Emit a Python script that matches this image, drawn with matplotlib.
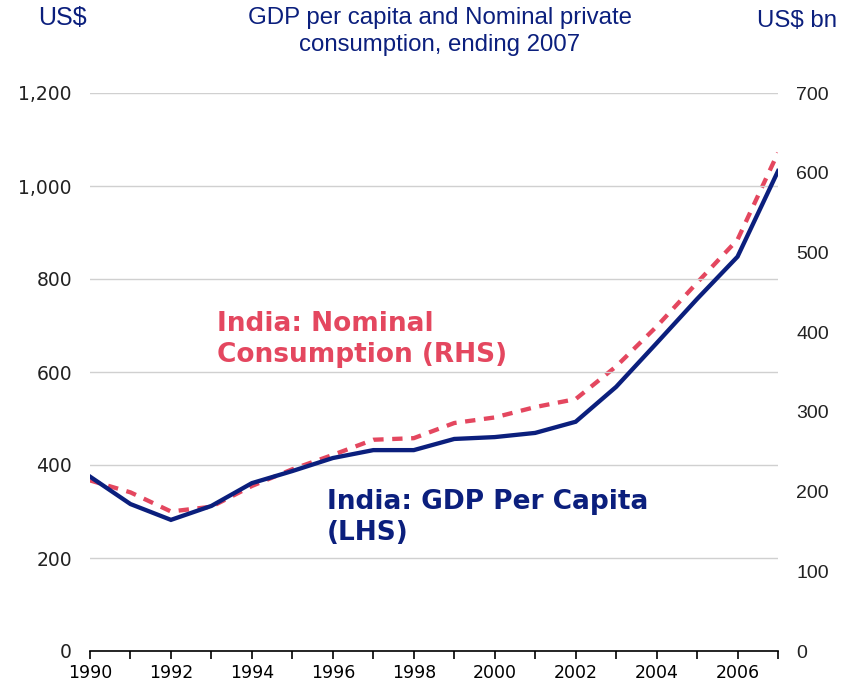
import matplotlib
matplotlib.use("Agg")
import matplotlib.pyplot as plt
from matplotlib.ticker import FixedLocator, FuncFormatter

years = list(range(1990, 2008))
gdp_per_capita = [375, 316, 282, 312, 361, 387, 415, 432, 432, 456, 460, 469, 493,
                  568, 662, 757, 848, 1032]
consumption = [214, 199, 175, 181, 207, 228, 246, 265, 267, 286, 293, 306, 316,
               357, 407, 462, 516, 625]
left_ticks = [0, 200, 400, 600, 800, 1000, 1200]
right_ticks = [0, 100, 200, 300, 400, 500, 600, 700]
x_major = list(range(1990, 2008, 2))

navy = '#0b1f7d'
pink = '#e4475f'
narrow = ['Liberation Sans Narrow', 'DejaVu Sans Condensed', 'Liberation Sans', 'DejaVu Sans']

fig = plt.figure(figsize=(8.5, 6.85), dpi=100)
ax = fig.add_axes([90/850, 34/685, 688/850, 558/685])
ax2 = ax.twinx()

ax.set_zorder(2)
ax.patch.set_visible(False)

ax.plot(years, gdp_per_capita, color=navy, lw=3.1, solid_joinstyle='miter', zorder=3)
ax2.plot(years, consumption, color=pink, lw=3.1, dashes=(2.4, 2.0), zorder=2)

ax.set_xlim(1990, 2007)
ax.set_ylim(0, 1200)
ax2.set_ylim(0, 700)

ax.set_yticks(left_ticks)
ax.yaxis.set_major_formatter(FuncFormatter(lambda v, p: f"{int(v):,}"))
ax2.set_yticks(right_ticks)

ax.grid(axis='y', color='#d0d0d0', lw=1)
ax.set_axisbelow(True)

ax.xaxis.set_major_locator(FixedLocator(x_major))
ax.xaxis.set_minor_locator(FixedLocator(years))
ax.tick_params(axis='x', which='both', direction='out', length=6, width=1.2,
               colors='black', labelsize=12.5, pad=3)
ax.tick_params(axis='y', length=0, labelsize=13.5, pad=13, colors='#222222')
ax2.tick_params(axis='y', length=0, pad=13, colors='#222222')
for lab in ax2.get_yticklabels():
    lab.set_family(narrow)
    lab.set_fontsize(14)

for s in ['top', 'left', 'right']:
    ax.spines[s].set_visible(False)
    ax2.spines[s].set_visible(False)
ax2.spines['bottom'].set_visible(False)
ax.spines['bottom'].set_linewidth(1.2)

fig.text(440/850, 1 - 31.5/685, 'GDP per capita and Nominal private\nconsumption, ending 2007',
         ha='center', va='center', color=navy, fontsize=17.3, family=narrow, linespacing=1.25)
fig.text(62/850, 1 - 18/685, 'US$', ha='center', va='center', color=navy,
         fontsize=18, family=narrow)
fig.text(797/850, 1 - 21/685, 'US$ bn', ha='center', va='center', color=navy,
         fontsize=17.3, family=narrow)

ax.text(1993.15, 731, 'India: Nominal\nConsumption (RHS)', color=pink, fontsize=19,
        fontweight='bold', ha='left', va='top', linespacing=1.25)
ax.text(1995.85, 348, 'India: GDP Per Capita\n(LHS)', color=navy, fontsize=19,
        fontweight='bold', ha='left', va='top', linespacing=1.25)

fig.savefig('out.png', dpi=100)
